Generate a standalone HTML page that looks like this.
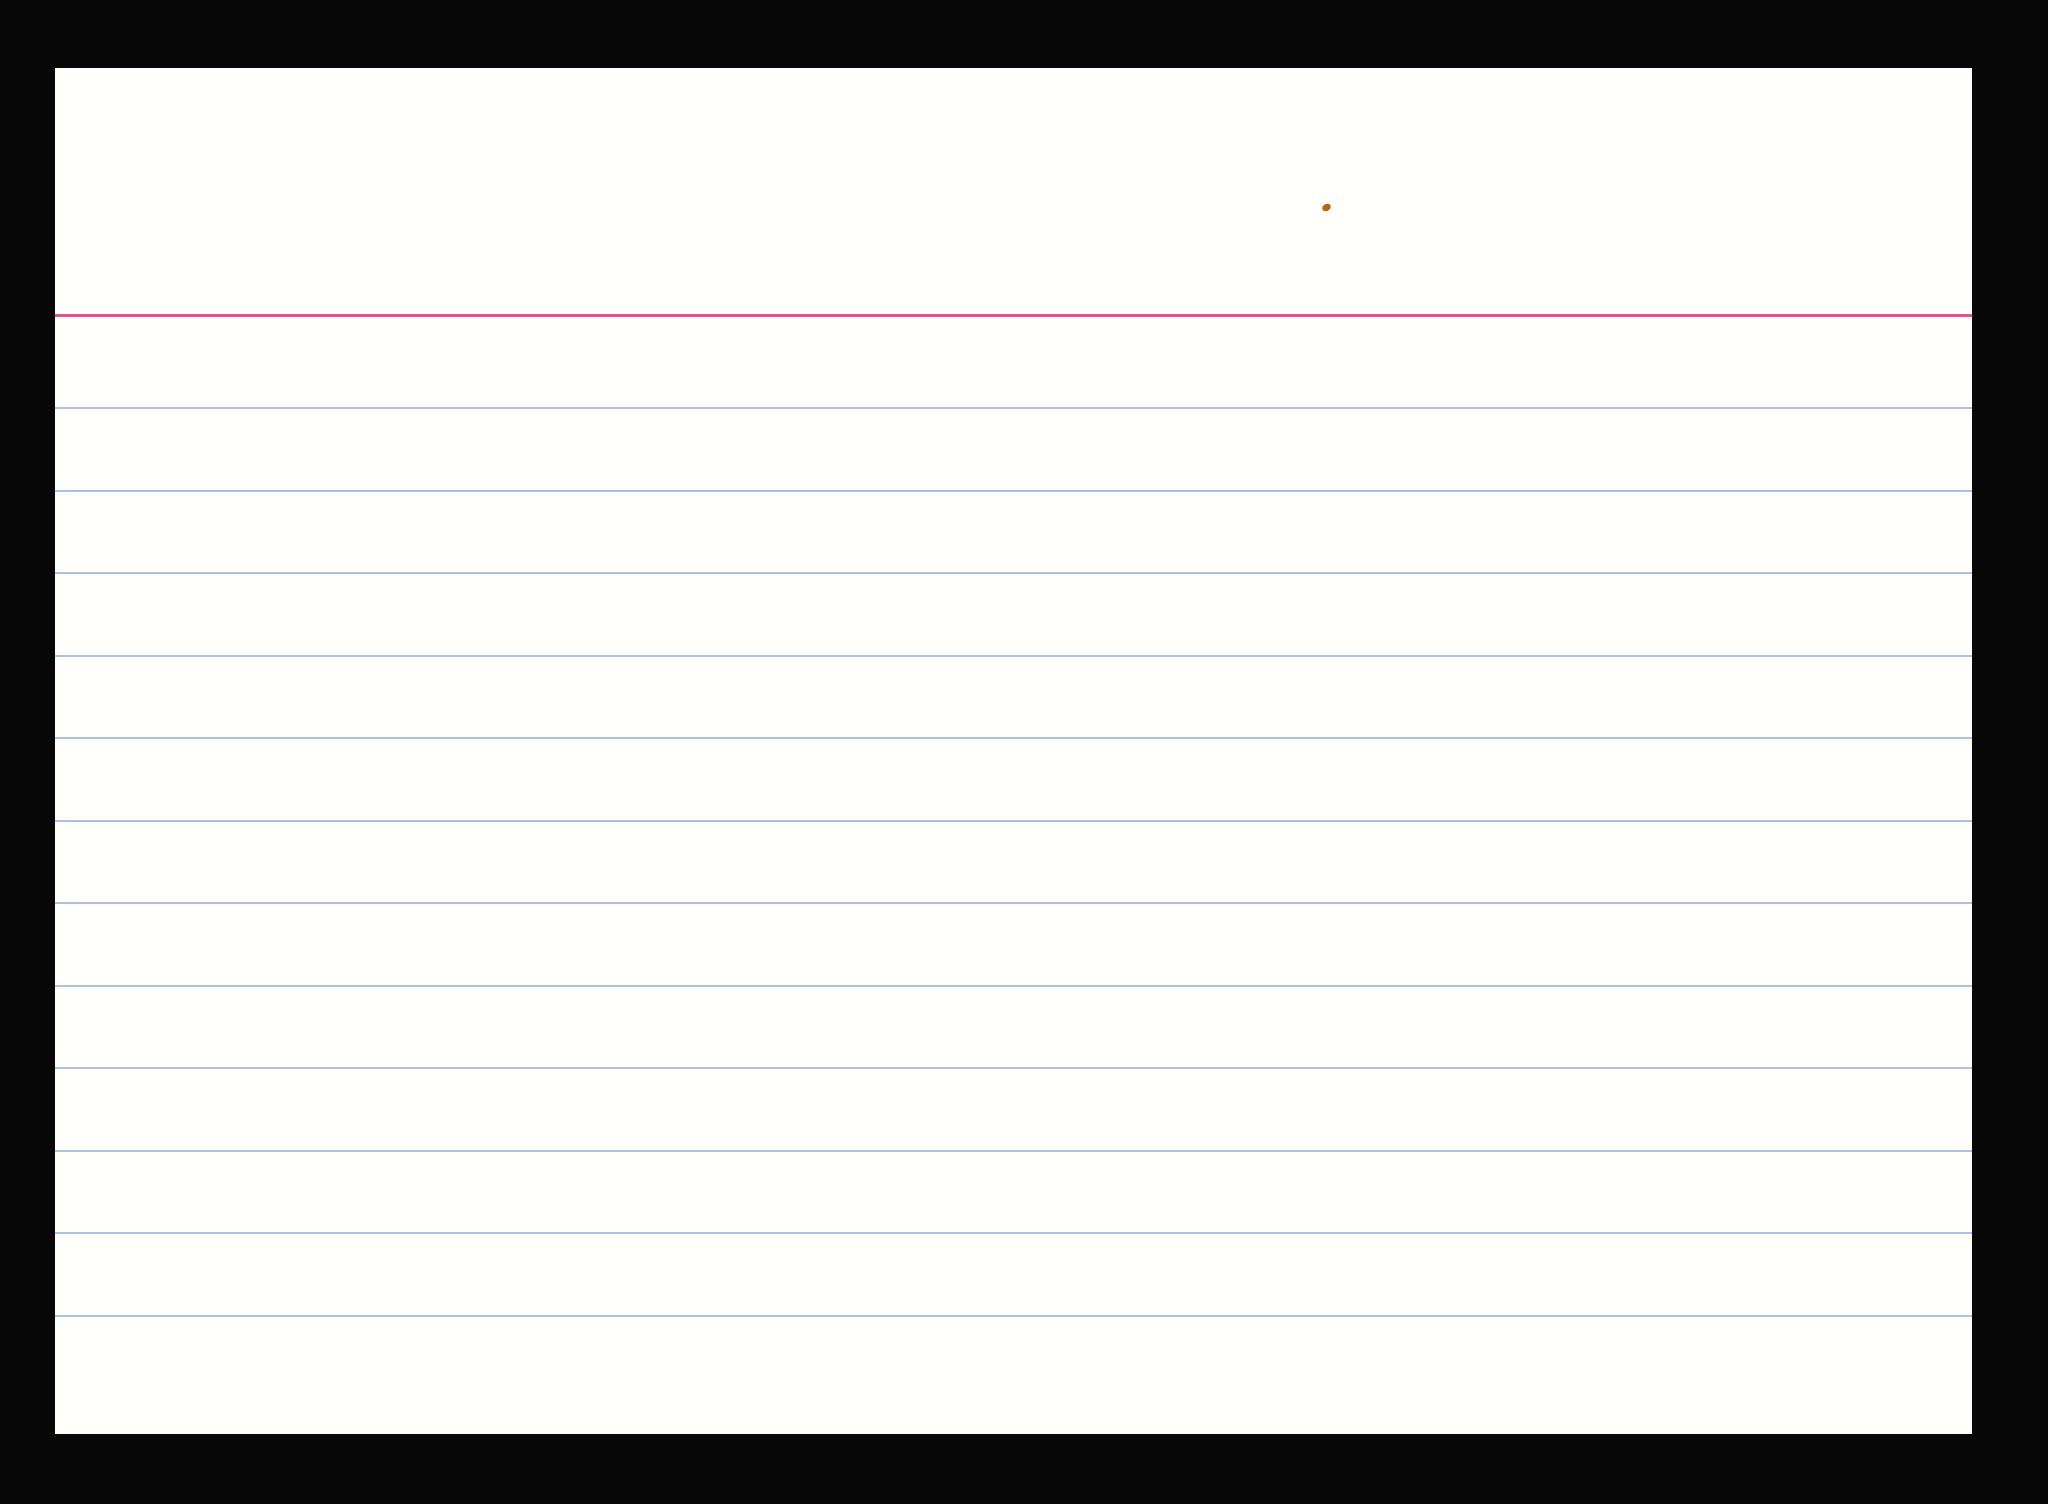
<!DOCTYPE html>
<html><head><style>
html,body{margin:0;padding:0;background:#070707;width:2048px;height:1504px;overflow:hidden}
.card{position:absolute;left:55px;top:68px;width:1917px;height:1366px;background:#fffffc}
.l{position:absolute;left:0;width:100%;height:2px;background:#aebfe6}
.r{position:absolute;left:0;width:100%;height:3px;background:#e8528a}
.dot{position:absolute;left:1267px;top:136px;width:9px;height:7px;border-radius:50%;background:#b8650e;transform:rotate(-30deg)}
</style></head><body>
<div class="card">
<div class="dot"></div>
<div class="r" style="top:246px"></div>
<div class="l" style="top:339px"></div>
<div class="l" style="top:422px"></div>
<div class="l" style="top:504px"></div>
<div class="l" style="top:587px"></div>
<div class="l" style="top:669px"></div>
<div class="l" style="top:752px"></div>
<div class="l" style="top:834px"></div>
<div class="l" style="top:917px"></div>
<div class="l" style="top:999px"></div>
<div class="l" style="top:1082px"></div>
<div class="l" style="top:1164px"></div>
<div class="l" style="top:1247px"></div>
</div>
</body></html>
